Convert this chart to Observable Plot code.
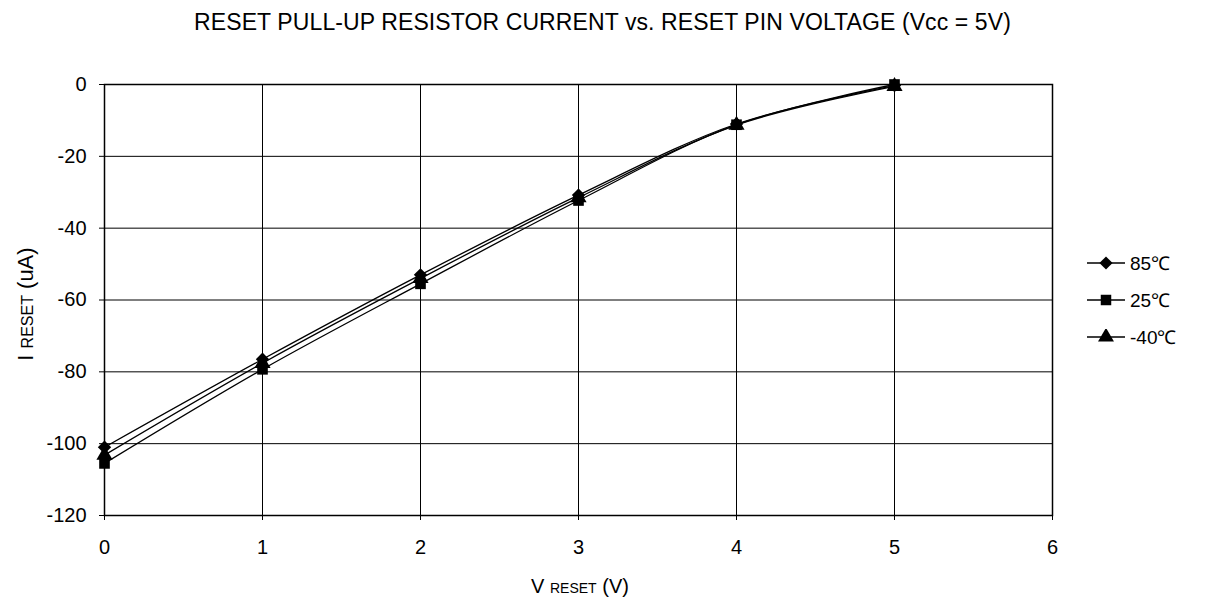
<!DOCTYPE html>
<html><head><meta charset="utf-8">
<script src="https://cdn.jsdelivr.net/npm/d3@7"></script>
<script src="https://cdn.jsdelivr.net/npm/@observablehq/plot@0.6"></script>
<style>
body{margin:0;background:#fff;font-family:"Liberation Sans",Arial,sans-serif;}
#wrap{position:relative;width:1205px;height:602px;}
#title{position:absolute;left:0;top:0;width:1205px;text-align:center;font-size:23px;line-height:23px;padding-top:11px;color:#000;letter-spacing:0.1px;}
#chart{position:absolute;left:0;top:46px;}
#legend{position:absolute;left:1086px;top:244px;font-size:19px;color:#000;}
#legend div{height:37px;display:flex;align-items:center;}
</style></head><body>
<div id="wrap">
<div id="title">RESET PULL-UP RESISTOR CURRENT vs. RESET PIN VOLTAGE (Vcc = 5V)</div>
<div id="chart"></div>
<div id="legend"></div>
</div>
<script>
const vReset = [0, 1, 2, 3, 4, 5];
const series = ["85℃", "25℃", "-40℃"];
const symbols = ["diamond2", "square", "triangle"];
const i85 = [-101, -76.5, -53, -30.8, -11, -0.3];
const i25 = [-105.5, -79.3, -55.5, -32.3, -11.2, 0];
const iM40 = [-103.2, -77.6, -54, -31.5, -11.3, -0.5];
const xTicks = [0, 1, 2, 3, 4, 5, 6];
const yTicks = [0, -20, -40, -60, -80, -100, -120];

const values = [i85, i25, iM40];
const data = [];
series.forEach((s, k) => vReset.forEach((v, j) => data.push({series: s, v, i: values[k][j]})));

const fmt = d => String(d);
const plot = Plot.plot({
  width: 1205, height: 556,
  marginTop: 38, marginBottom: 87, marginLeft: 104, marginRight: 153,
  style: {fontFamily: '"Liberation Sans", Arial, sans-serif', fontSize: "20px", color: "#000", background: "#fff"},
  x: {domain: [0, 6], label: null},
  y: {domain: [-120, 0], label: null},
  symbol: {domain: series, range: symbols},
  marks: [
    Plot.gridX(xTicks, {stroke: "#000", strokeOpacity: 1, strokeWidth: 1}),
    Plot.gridY(yTicks, {stroke: "#000", strokeOpacity: 1, strokeWidth: 1}),
    Plot.frame({stroke: "#000", strokeWidth: 1.5}),
    Plot.axisX(xTicks, {tickSize: 5, tickPadding: 19, fontSize: 20, tickFormat: fmt, label: null}),
    Plot.axisY(yTicks, {tickSize: 5, tickPadding: 13, fontSize: 20, tickFormat: fmt, label: null}),
    Plot.line(data, {x: "v", y: "i", z: "series", stroke: "#000", strokeWidth: 1.3, curve: "catmull-rom"}),
    Plot.dot(data, {x: "v", y: "i", symbol: "series", fill: "#000", stroke: "none", r: 6})
  ]
});
document.getElementById("chart").appendChild(plot);

const svg = d3.select(plot);
// x axis label
const xl = svg.append("text").attr("x", 580).attr("y", 547).attr("text-anchor", "middle")
  .attr("font-family", '"Liberation Sans", Arial, sans-serif').attr("fill", "#000");
xl.append("tspan").attr("font-size", 20).text("V ");
xl.append("tspan").attr("font-size", 14).text("RESET");
xl.append("tspan").attr("font-size", 20).text(" (V)");
// y axis label
const yl = svg.append("text").attr("transform", "translate(33,258) rotate(-90)").attr("text-anchor", "middle")
  .attr("font-family", '"Liberation Sans", Arial, sans-serif').attr("fill", "#000");
yl.append("tspan").attr("font-size", 22).text("I ");
yl.append("tspan").attr("font-size", 16).text("RESET");
yl.append("tspan").attr("font-size", 22).text(" (uA)");

// legend
const leg = d3.select("#legend");
series.forEach((s, k) => {
  const row = leg.append("div");
  const sv = row.append("svg").attr("width", 40).attr("height", 16);
  sv.append("line").attr("x1", 1).attr("x2", 39).attr("y1", 8).attr("y2", 8).attr("stroke", "#000").attr("stroke-width", 1.3);
  const sym = {diamond2: d3.symbolDiamond2, square: d3.symbolSquare, triangle: d3.symbolTriangle}[symbols[k]];
  sv.append("path").attr("transform", "translate(20,8)").attr("d", d3.symbol(sym, 110)()).attr("fill", "#000");
  row.append("span").style("margin-left", "4px").text(s);
});
</script>
</body></html>
